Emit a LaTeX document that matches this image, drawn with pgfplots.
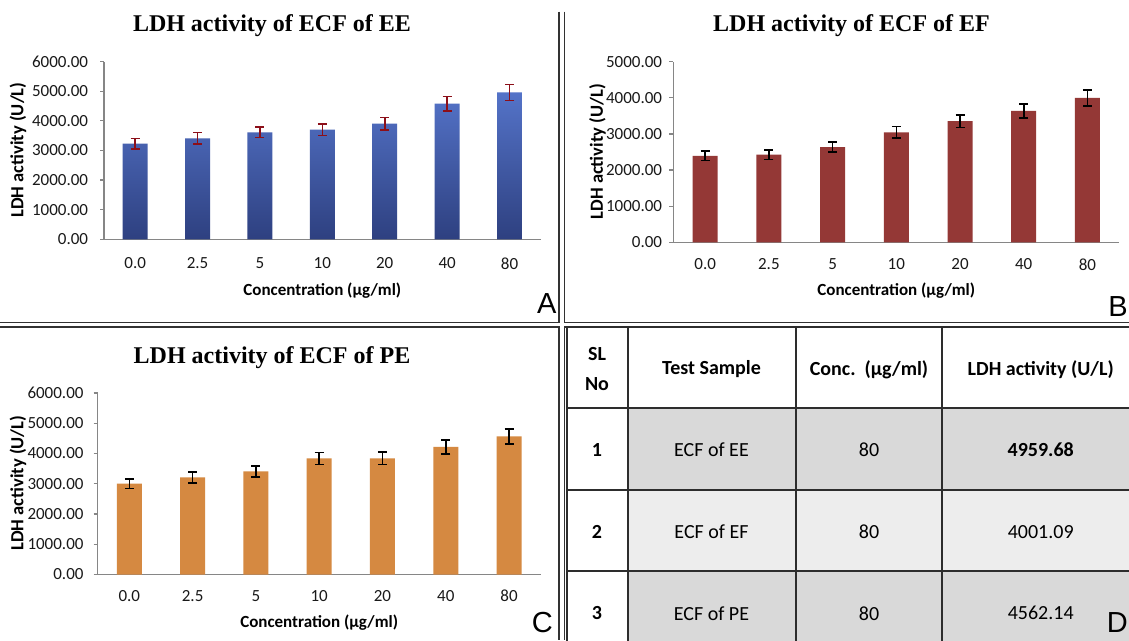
\documentclass[border=0pt]{standalone}
\usepackage{fontspec}
\setmainfont{Carlito}
\newfontfamily\titlefont{Liberation Serif}
\newfontfamily\letterfont{Liberation Sans}
\usepackage{pgfplots}
\pgfplotsset{compat=1.18}

\definecolor{axgray}{RGB}{134,134,134}
\definecolor{tickc}{RGB}{25,25,25}
\definecolor{eetop}{RGB}{84,115,200}
\definecolor{eebot}{RGB}{46,64,128}
\definecolor{eeerr}{RGB}{140,15,25}
\definecolor{efbar}{RGB}{148,56,54}
\definecolor{pebar}{RGB}{213,137,65}
\definecolor{rowdark}{RGB}{217,217,217}
\definecolor{rowlight}{RGB}{237,237,237}
\definecolor{framec}{RGB}{50,50,50}

\pgfplotsset{
  panel/.style={
    scale only axis,
    xmin=-0.5, xmax=6.5,
    ymin=0,
    axis x line*=bottom, axis y line*=left,
    axis line style={draw=axgray, line width=1.5pt, -},
    xtick={0,1,2,3,4,5,6},
    xticklabels={0.0,2.5,5,10,20,40,80},
    x tick style={draw=none},
    y tick style={draw=axgray, line width=1.2pt},
    major tick length=4pt,
    tick align=outside,
    tick label style={font=\fontsize{17}{17}\selectfont, text=tickc},
    y tick label style={/pgf/number format/fixed, /pgf/number format/fixed zerofill, /pgf/number format/precision=2, /pgf/number format/1000 sep={}, /pgf/number format/assume math mode=true},
    label style={font=\bfseries\fontsize{17}{17}\selectfont, text=black},
    ylabel style={font=\bfseries\fontsize{18.5}{18.5}\selectfont},
    title style={font=\titlefont\bfseries\fontsize{24}{24}\selectfont, anchor=center, yshift=-7pt},
    ybar, bar width=25pt, bar shift=0pt,
    clip=false,
  },
  errstyle/.style={
    error bars/.cd, y dir=both, y explicit,
    error bar style={draw=#1, line width=1.6pt},
    error mark options={rotate=90, mark size=4.5pt, line width=1.6pt, draw=#1},
  },
}

\begin{document}
\begin{tikzpicture}[x=1pt,y=1pt]
\useasboundingbox (0,0) rectangle (1129,640);
\clip (0,0) rectangle (1129,640);
\fill[white] (0,0) rectangle (1129,640);

% ---- panel frames ----
\draw[framec, line width=1.6pt] (559,628.3) -- (559,317.3) -- (0,317.3);
\draw[framec, line width=1.6pt] (564.3,628.3) -- (564.3,317.3) -- (1129,317.3);
\draw[framec, line width=1.6pt] (0,312.7) -- (559,312.7) -- (559,0);
\draw[framec, line width=1.6pt] (1129,312.7) -- (564.3,312.7) -- (564.3,0);

% ---- panel A ----
\begin{axis}[panel,
  at={(104pt,400.7pt)}, anchor=south west,
  width=436.7pt, height=177.6pt,
  ymax=6000, ytick={0,1000,2000,3000,4000,5000,6000},
  yticklabel style={anchor=east, inner sep=0pt, xshift=-11.7pt},
  xticklabel style={anchor=center, yshift=-20pt},
  title={LDH activity of ECF of EE},
  title style={at={(axis description cs:0.3847,1.2066)}},
  xlabel={Concentration (µg/ml)},
  xlabel style={at={(axis description cs:0.5,-0.2911)}, anchor=center},
  ylabel={LDH activity (U/L)},
  ylabel style={at={(axis description cs:-0.1969,0.5028)}, anchor=center},
]
\addplot[draw=none, top color=eetop, bottom color=eebot] coordinates {
  (0,3230) (1,3412) (2,3615) (3,3703) (4,3905) (5,4581) (6,4959.68)};
\addplot[draw=none, fill=none, errstyle=eeerr] coordinates {
  (0,3230) +- (0,175)
  (1,3412) +- (0,191)
  (2,3615) +- (0,180)
  (3,3703) +- (0,197)
  (4,3905) +- (0,214)
  (5,4581) +- (0,240)
  (6,4959.68) +- (0,265)};
\end{axis}

% ---- panel B ----
\begin{axis}[panel,
  at={(673.3pt,397.7pt)}, anchor=south west,
  width=446pt, height=180.6pt,
  ymax=5000, ytick={0,1000,2000,3000,4000,5000},
  yticklabel style={anchor=east, inner sep=0pt, xshift=-7pt},
  xticklabel style={anchor=center, yshift=-18pt},
  title={LDH activity of ECF of EF},
  title style={at={(axis description cs:0.3996,1.2071)}},
  xlabel={Concentration (µg/ml)},
  xlabel style={at={(axis description cs:0.5,-0.2697)}, anchor=center},
  ylabel={LDH activity (U/L)},
  ylabel style={at={(axis description cs:-0.1702,0.5017)}, anchor=center},
]
\addplot[draw=none, fill=efbar, errstyle=black] coordinates {
  (0,2396) +- (0,135)
  (1,2424) +- (0,129)
  (2,2637) +- (0,143)
  (3,3044) +- (0,161)
  (4,3357) +- (0,175)
  (5,3641) +- (0,194)
  (6,4001.09) +- (0,221)};
\end{axis}

% ---- panel C ----
\begin{axis}[panel,
  at={(97.7pt,65.5pt)}, anchor=south west,
  width=443pt, height=181.5pt,
  ymax=6000, ytick={0,1000,2000,3000,4000,5000,6000},
  yticklabel style={anchor=east, inner sep=0pt, xshift=-10pt},
  xticklabel style={anchor=center, yshift=-17.5pt},
  title={LDH activity of ECF of PE},
  title style={at={(axis description cs:0.3935,1.2)}},
  xlabel={Concentration (µg/ml)},
  xlabel style={at={(axis description cs:0.5,-0.265)}, anchor=center},
  ylabel={LDH activity (U/L)},
  ylabel style={at={(axis description cs:-0.1799,0.504)}, anchor=center},
]
\addplot[draw=none, fill=pebar, errstyle=black] coordinates {
  (0,3002) +- (0,165)
  (1,3213) +- (0,182)
  (2,3411) +- (0,182)
  (3,3841) +- (0,198)
  (4,3841) +- (0,204)
  (5,4215) +- (0,231)
  (6,4562.14) +- (0,243)};
\end{axis}

% ---- panel D: table ----
\fill[rowdark]  (627.5,231.5) rectangle (1139,150);
\fill[rowlight] (627.5,150) rectangle (1139,69.3);
\fill[rowdark]  (627.5,69.3) rectangle (1139,-11.5);
\begin{scope}[draw={rgb,255:red,45;green,45;blue,45}, line width=2pt]
\draw (566.7,312.7) rectangle (1139,-11.5);
\foreach \yy in {231.5,150,69.3} \draw (566.7,\yy) -- (1139,\yy);
\foreach \xx in {627.5,795.6,942.3} \draw (\xx,312.7) -- (\xx,-11.5);
\end{scope}
\begin{scope}[font=\fontsize{20}{20}\selectfont]
\node[font=\bfseries\fontsize{20}{20}\selectfont] at (597,286.3) {SL};
\node[font=\bfseries\fontsize{20}{20}\selectfont] at (597,256.3) {No};
\node[font=\bfseries\fontsize{20}{20}\selectfont] at (711.5,270.7) {Test Sample};
\node[font=\bfseries\fontsize{20}{20}\selectfont] at (869,270.7) {Conc.\ \ (µg/ml)};
\node[font=\bfseries\fontsize{20}{20}\selectfont] at (1040.7,270.7) {LDH activity (U/L)};
\node[font=\bfseries\fontsize{20}{20}\selectfont] at (597,190) {1};
\node[font=\bfseries\fontsize{20}{20}\selectfont] at (597,108.3) {2};
\node[font=\bfseries\fontsize{20}{20}\selectfont] at (597,26.7) {3};
\node at (711.5,190) {ECF of EE};
\node at (711.5,108.3) {ECF of EF};
\node at (711.5,26.7) {ECF of PE};
\node at (869,190) {80};
\node at (869,108.3) {80};
\node at (869,26.7) {80};
\node[font=\bfseries\fontsize{20}{20}\selectfont] at (1040.7,190) {4959.68};
\node at (1040.7,108.3) {4001.09};
\node at (1040.7,26.7) {4562.14};
\end{scope}

% ---- panel letters ----
\begin{scope}[font=\letterfont\fontsize{29}{29}\selectfont, inner sep=0pt]
\node[anchor=base] at (546.7,326) {A};
\node[anchor=base east] at (1128,323.5) {B};
\node[anchor=base] at (542.3,8) {C};
\node[anchor=base east] at (1128,8) {D};
\end{scope}
\end{tikzpicture}
\end{document}
